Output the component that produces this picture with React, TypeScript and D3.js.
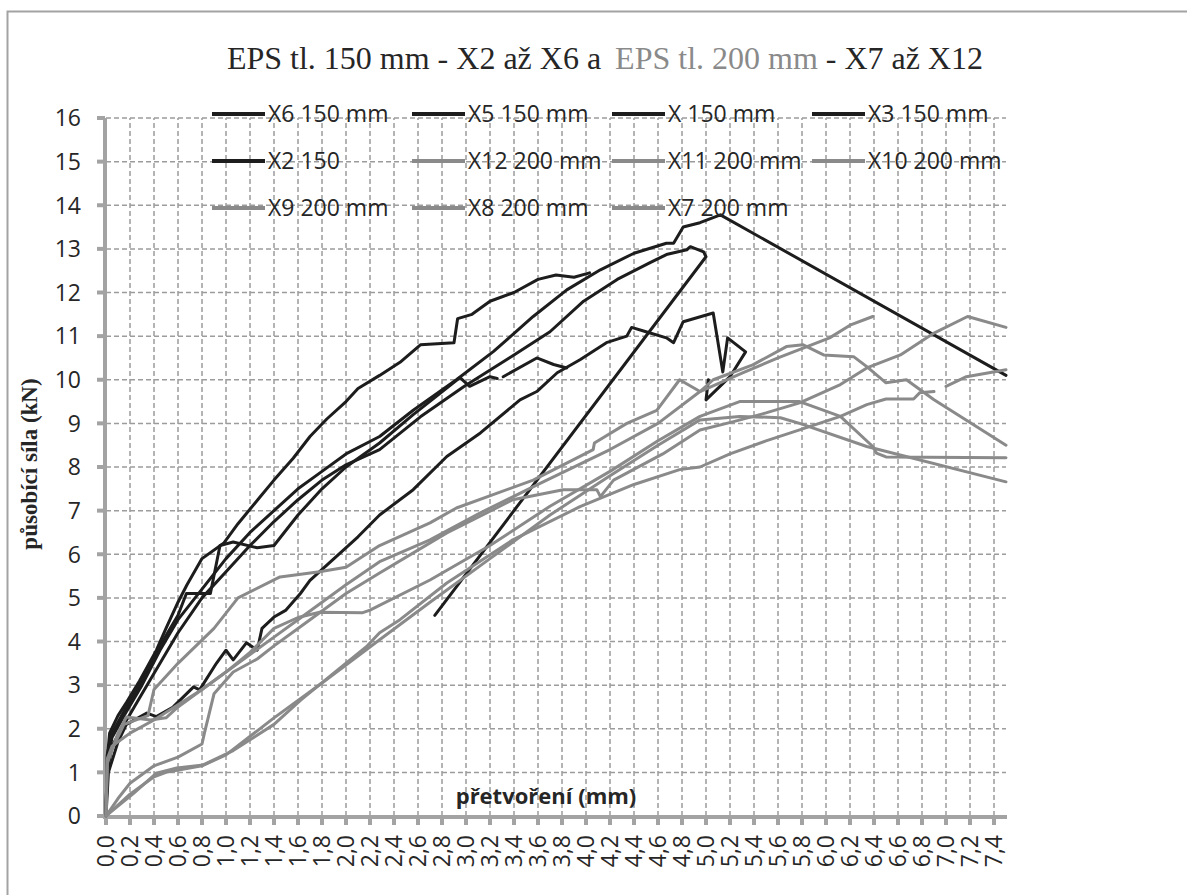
import React from 'react';
import * as d3 from 'd3';

type P = [number, number];
const G: P = [NaN, NaN];

// ---- black series (EPS 150 mm) ----
const X6: P[] = [[0,0],[0.01,1.3],[0.03,1.9],[0.1,2.3],[0.17,2.6],[0.28,3.1],[0.34,3.4],[0.42,3.8],[0.5,4.3],[0.6,4.9],[0.675,5.3],[0.8,5.9],[0.98,6.25],[1.1,6.7],[1.28,7.3],[1.4,7.7],[1.56,8.2],[1.7,8.7],[1.84,9.1],[2.0,9.5],[2.1,9.8],[2.28,10.1],[2.45,10.4],[2.62,10.8],[2.9,10.85],[2.93,11.4],[3.05,11.5],[3.2,11.8],[3.4,12.0],[3.6,12.3],[3.75,12.4],[3.9,12.35],[4.03,12.45]];
const X5: P[] = [[0,0],[0.01,1.2],[0.05,1.8],[0.15,2.3],[0.3,3.0],[0.45,3.8],[0.6,4.5],[0.8,5.2],[1.0,5.9],[1.2,6.5],[1.4,7.0],[1.6,7.5],[1.8,7.9],[2.0,8.3],[2.28,8.7],[2.56,9.3],[2.92,10.0],[3.23,10.65],[3.56,11.45],[3.84,12.06],[4.12,12.52],[4.4,12.9],[4.67,13.13],[4.73,13.13],[4.81,13.5],[4.95,13.6],[5.12,13.78],[7.5,10.1]];
const X: P[] = [[0,0],[0.01,1.0],[0.05,1.6],[0.15,2.1],[0.3,2.8],[0.45,3.5],[0.6,4.2],[0.8,5.0],[1.0,5.6],[1.2,6.2],[1.4,6.75],[1.6,7.25],[1.8,7.7],[2.0,8.05],[2.28,8.4],[2.62,9.15],[2.98,9.84],[3.39,10.55],[3.7,11.1],[3.98,11.8],[4.26,12.3],[4.53,12.68],[4.67,12.87],[4.84,12.98],[4.87,13.05],[4.98,12.93],[5.0,12.82],[2.74,4.6]];
const X3: P[] = [[0,0],[0.02,1.0],[0.1,1.7],[0.17,2.1],[0.34,2.36],[0.42,2.28],[0.56,2.5],[0.73,2.96],[0.78,2.89],[0.92,3.5],[1.0,3.8],[1.06,3.58],[1.17,3.97],[1.26,3.8],[1.3,4.3],[1.4,4.56],[1.5,4.72],[1.62,5.1],[1.7,5.4],[1.9,5.9],[2.1,6.4],[2.28,6.9],[2.56,7.48],[2.84,8.24],[3.12,8.78],[3.45,9.54],[3.59,9.73],[3.76,10.16],[3.95,10.46],[4.17,10.85],[4.34,11.0],[4.38,11.2],[4.5,11.1],[4.67,10.96],[4.73,10.85],[4.81,11.33],[5.06,11.53],[5.14,10.18],[5.18,10.96],[5.33,10.64],[5.2,10.07],[5.0,9.54],[5.02,10.0]];
const X2: P[] = [[0,0],[0.01,1.4],[0.05,1.9],[0.15,2.4],[0.3,3.1],[0.45,3.9],[0.6,4.6],[0.67,5.1],[0.78,5.1],[0.87,5.1],[0.95,6.2],[1.06,6.28],[1.26,6.15],[1.4,6.2],[1.6,6.9],[1.8,7.5],[2.0,8.0],[2.28,8.55],[2.56,9.2],[2.95,10.05],[3.03,9.85],[3.2,10.07],[3.26,10.03],G,[3.31,10.07],[3.59,10.5],[3.73,10.35],[3.84,10.27]];

// ---- grey series (EPS 200 mm) ----
const X12: P[] = [[0,0],[0.01,1.2],[0.1,1.9],[0.17,2.27],[0.37,2.2],[0.5,2.25],[0.6,2.5],[0.8,2.9],[1.0,3.3],[1.2,3.7],[1.4,4.1],[1.6,4.5],[1.8,4.9],[2.0,5.3],[2.28,5.83],[2.7,6.33],[3.12,6.95],[3.6,7.6],[4.2,8.4],[4.6,9.0],[4.95,9.73],[5.3,10.15],[5.6,10.5],[6.03,10.96],[6.2,11.25],[6.39,11.45]];
const X11: P[] = [[0,0],[0.01,1.3],[0.15,2.1],[0.35,2.3],[0.4,2.9],[0.6,3.5],[0.9,4.3],[1.1,5.0],[1.45,5.48],[1.78,5.6],[2.0,5.7],[2.28,6.2],[2.7,6.72],[2.92,7.06],[3.56,7.7],[4.06,8.4],[4.07,8.55],[4.34,9.0],[4.59,9.3],[4.78,10.0],[4.95,9.73],[5.06,10.0],[5.39,10.34],[5.67,10.76],[5.81,10.8],[5.98,10.57],[6.23,10.53],[6.34,10.3],[6.5,9.93],[6.67,10.0],[6.9,9.54],[7.5,8.5]];
const X10: P[] = [[0,0],[0.1,0.4],[0.2,0.75],[0.4,1.15],[0.6,1.35],[0.8,1.65],[0.82,1.9],[0.9,2.8],[1.06,3.3],[1.26,3.6],[1.4,3.9],[1.6,4.3],[1.8,4.7],[2.0,5.1],[2.28,5.57],[2.84,6.49],[3.39,7.25],[3.81,7.48],[4.09,7.48],[4.12,7.32],[4.23,7.7],[4.64,8.3],[4.95,8.85],[5.23,9.04],[5.5,9.24],[5.78,9.47],[6.12,9.89],[6.34,10.27],[6.62,10.57],[6.9,11.07],[7.18,11.45],[7.5,11.2]];
const X9: P[] = [[0,0],[0.01,1.3],[0.05,1.6],[0.2,1.9],[0.4,2.2],[0.6,2.55],[0.8,2.9],[1.0,3.3],[1.2,3.75],[1.4,4.3],[1.6,4.55],[1.78,4.67],[2.14,4.66],[2.2,4.72],[2.7,5.41],[3.2,6.2],[3.7,7.1],[4.2,7.9],[4.6,8.6],[4.95,9.16],[5.28,9.5],[5.78,9.5],[6.12,9.16],[6.39,8.47],[6.42,8.32],[6.5,8.23],[7.5,8.21]];
const X8: P[] = [[0,0],[0.1,0.25],[0.2,0.5],[0.4,0.9],[0.5,1.0],[0.8,1.15],[1.0,1.4],[1.4,2.25],[1.8,3.05],[2.28,4.04],[2.7,4.9],[3.2,5.9],[3.7,6.9],[4.2,7.8],[4.6,8.5],[4.95,9.08],[5.28,9.16],[5.62,9.13],[5.78,9.0],[6.34,8.47],[7.5,7.66]];
const X7: P[] = [[0,0],[0.03,0.07],[0.23,0.52],[0.42,0.98],[0.59,1.1],[0.81,1.17],[1.06,1.5],[1.4,2.1],[1.62,2.65],[1.9,3.28],[2.17,3.88],[2.28,4.2],[2.45,4.5],[2.84,5.34],[3.39,6.33],[3.95,7.09],[4.4,7.6],[4.78,7.94],[4.95,8.0],[5.2,8.3],[5.5,8.6],[5.78,8.85],[6.12,9.16],[6.34,9.43],[6.5,9.56],[6.73,9.56],[6.78,9.7],[6.9,9.73],G,[7.0,9.85],[7.17,10.07],[7.5,10.23]];

const seriesNames = ['X6 150 mm','X5 150 mm','X 150 mm','X3 150 mm','X2 150','X12 200 mm','X11 200 mm','X10 200 mm','X9 200 mm','X8 200 mm','X7 200 mm'];
const seriesData = [X6, X5, X, X3, X2, X12, X11, X10, X9, X8, X7];
const seriesGroup = ['150','150','150','150','150','200','200','200','200','200','200'];

const yTicks = d3.range(0, 17, 1);
const xTicks = d3.range(0, 38, 1).map(i => i * 0.2);
const xTickLabels = xTicks.map(v => v.toFixed(1).replace('.', ','));

const BLACK = '#1d1d1d';
const GREY = '#8a8a8a';
const AXIS = '#a3a3a3';
const GRID = '#9c9c9c';
const TEXT = '#262626';
const SANS = "'Open Sans', 'DejaVu Sans', sans-serif";
const SERIF = "'Liberation Serif', 'Times New Roman', serif";

export default function App() {
  const W = 1187, H = 895;
  const x = d3.scaleLinear().domain([0, 7.5]).range([106, 1006]);
  const y = d3.scaleLinear().domain([0, 16]).range([816, 118]);
  const line = d3.line<P>().defined(d => !isNaN(d[0])).x(d => x(d[0])).y(d => y(d[1]));
  const x0 = x(0), x1 = x(7.5), y0 = y(0), y1 = y(16);

  return (
    <svg width={W} height={H} style={{ position: 'absolute', left: 0, top: 0, background: '#fff' }}>
      <rect x={0} y={0} width={W} height={H} fill="#fff" />
      <path d={`M7.5,${H + 5} L7.5,11.5 L${W + 5},11.5`} fill="none" stroke={AXIS} strokeWidth={2} />
      <text x={605} y={69} textAnchor="middle" fontFamily={SERIF} fontSize={32} fill={TEXT}>
        <tspan>EPS tl. 150 mm - X2 až X6 a</tspan>
        <tspan dx={14} fill={GREY}>EPS tl. 200 mm</tspan>
        <tspan dx={8}>- X7 až X12</tspan>
      </text>
      {/* grid */}
      <g stroke={GRID} strokeWidth={1.5} strokeDasharray="5,3" fill="none">
        {yTicks.filter(v => v > 0).map(v => (
          <line key={'h' + v} x1={x0} x2={x1} y1={y(v)} y2={y(v)} />
        ))}
        {xTicks.filter(v => v > 0).map((v, i) => (
          <line key={'v' + i} x1={x(v)} x2={x(v)} y1={y0} y2={y1} />
        ))}
      </g>
      {/* axes */}
      <g stroke={AXIS}>
        <line x1={x0 - 1} x2={x0 - 1} y1={y1} y2={y0 + 2} strokeWidth={4} />
        <line x1={x0 - 3} x2={x1 + 1} y1={y0 + 1} y2={y0 + 1} strokeWidth={4} />
        {yTicks.map(v => (
          <line key={'yt' + v} x1={x0 - 9} x2={x0 - 1} y1={y(v)} y2={y(v)} strokeWidth={4} />
        ))}
        {xTicks.map((v, i) => (
          <line key={'xt' + i} x1={x(v)} x2={x(v)} y1={y0} y2={y0 + 9} strokeWidth={4} />
        ))}
      </g>
      {/* tick labels */}
      <g fontFamily={SANS} fontSize={23} fill={TEXT}>
        {yTicks.map(v => (
          <text key={'yl' + v} x={81} y={y(v)} dy="0.36em" textAnchor="end">{v}</text>
        ))}
        {xTicks.map((v, i) => (
          <text key={'xl' + i} transform={`translate(${x(v) + 8},835) rotate(-90)`} textAnchor="end">{xTickLabels[i]}</text>
        ))}
      </g>
      {/* axis titles */}
      <text transform="translate(37,464) rotate(-90)" textAnchor="middle" fontFamily={SERIF} fontWeight="bold" fontSize={23} fill={TEXT}>působící síla (kN)</text>
      <text x={546} y={804} textAnchor="middle" fontFamily={SANS} fontWeight="bold" fontSize={22} fill={TEXT}>přetvoření (mm)</text>
      {/* series */}
      <g fill="none" strokeLinejoin="round" strokeLinecap="round">
        {seriesData.map((d, i) => (
          <path key={'s' + i} d={line(d) || ''} stroke={seriesGroup[i] === '150' ? BLACK : GREY} strokeWidth={3} />
        ))}
      </g>
      {/* legend */}
      <g fontFamily={SANS} fontSize={23} fill={TEXT}>
        {seriesNames.map((n, i) => {
          const col = i % 4, row = Math.floor(i / 4);
          const lx = 212 + col * 200, ly = 114 + row * 47;
          return (
            <g key={'lg' + i}>
              <line x1={lx} x2={lx + 53} y1={ly} y2={ly} stroke={seriesGroup[i] === '150' ? BLACK : GREY} strokeWidth={4} />
              <text x={lx + 56} y={ly} dy="0.36em">{n}</text>
            </g>
          );
        })}
      </g>
    </svg>
  );
}
